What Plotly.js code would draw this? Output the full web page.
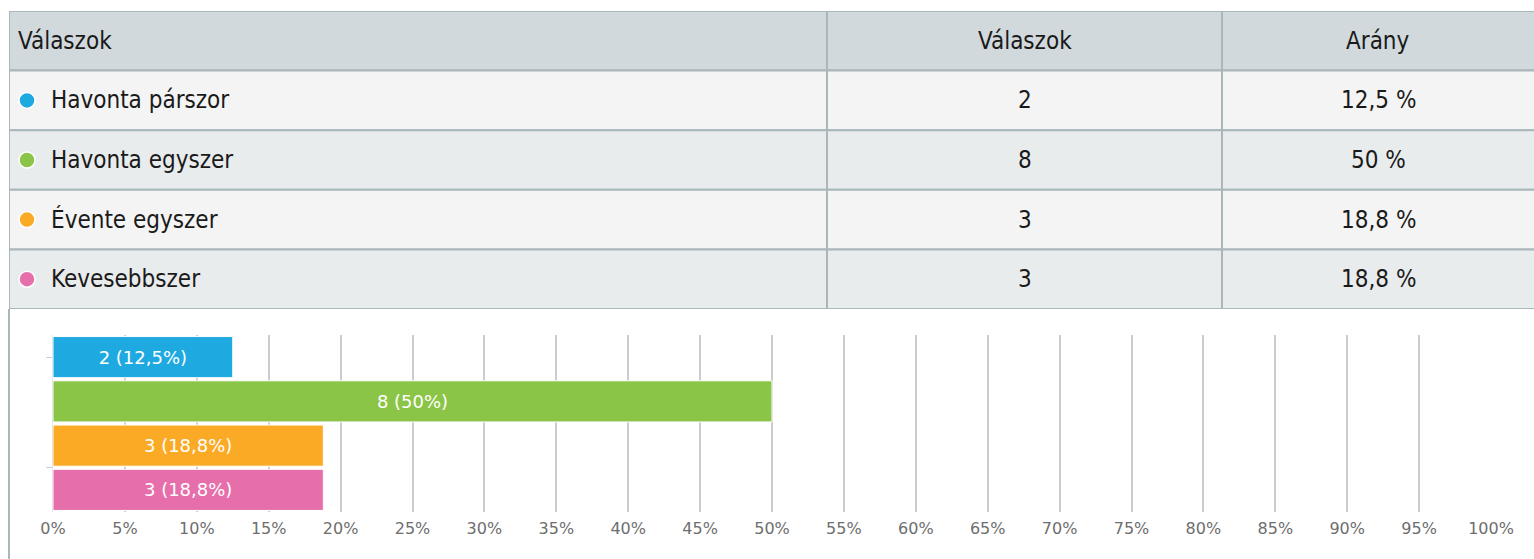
<!DOCTYPE html>
<html>
<head>
<meta charset="utf-8">
<script src="https://cdn.plot.ly/plotly-3.0.1.min.js"></script>
<style>
  html, body { margin: 0; padding: 0; background: #fff; }
  #chart { width: 1534px; height: 559px; }
</style>
</head>
<body>
<div id="chart"></div>
<script>
// answers, counts and shares as read from the survey summary
const answers = ['Havonta párszor', 'Havonta egyszer', 'Évente egyszer', 'Kevesebbszer'];
const counts = [2, 8, 3, 3];
const shares = [12.5, 50, 18.8, 18.8];
const colors = ['#1fa9e1', '#8bc547', '#fbaa26', '#e66fab'];
const headers = ['Válaszok', 'Válaszok', 'Arány'];
const pctTicks = [0, 5, 10, 15, 20, 25, 30, 35, 40, 45, 50, 55, 60, 65, 70, 75, 80, 85, 90, 95, 100];

const huNum = v => String(v).replace('.', ',');

const tableFont = 'Liberation Sans Narrow, DejaVu Sans Condensed, Arial Narrow, sans-serif';
const barFont = 'DejaVu Sans, Verdana, sans-serif';

// table grid: x2 runs in pixels across the panel, y2 counts rows (0 = header)
const colEdges = [0, 818, 1213, 1525];
const rowFills = ['#d1d9dd', '#f4f4f4', '#e9eced', '#f4f4f4', '#e9eced'];
const border = '#a9b6ba';

const shapes = [];
rowFills.forEach((fill, r) => {
    shapes.push({ type: 'rect', xref: 'x2', yref: 'y2', layer: 'below',
        x0: colEdges[0], x1: colEdges[3] + 4, y0: r - 0.5, y1: r + 0.5,
        fillcolor: fill, line: { color: border, width: 2 } });
});
[colEdges[1], colEdges[2]].forEach(x => {
    shapes.push({ type: 'line', xref: 'x2', yref: 'y2', layer: 'below',
        x0: x, x1: x, y0: -0.5, y1: rowFills.length - 0.5,
        line: { color: border, width: 2 } });
});
// left border of the panel, continuing below the table
shapes.push({ type: 'line', xref: 'paper', yref: 'paper', x0: 9 / 1534, x1: 9 / 1534, y0: 0, y1: 250 / 559,
    line: { color: border, width: 2 } });

const cellFont = { family: tableFont, size: 24, color: '#1a1a1a' };
const annotations = [];
const textAt = (x, r, text, anchor) => annotations.push({
    xref: 'x2', yref: 'y2', x: x, y: r, text: text, showarrow: false,
    xanchor: anchor, yanchor: 'middle', font: cellFont });

textAt(7, 0, headers[0], 'left');
textAt((colEdges[1] + colEdges[2]) / 2, 0, headers[1], 'center');
textAt((colEdges[2] + colEdges[3]) / 2, 0, headers[2], 'center');
answers.forEach((a, i) => {
    textAt(40, i + 1, a, 'left');
    textAt((colEdges[1] + colEdges[2]) / 2, i + 1, String(counts[i]), 'center');
    textAt((colEdges[2] + colEdges[3]) / 2, i + 1, huNum(shares[i]) + ' %', 'center');
});

// coloured dots in front of each answer
const dots = {
    type: 'scatter',
    mode: 'markers',
    xaxis: 'x2',
    yaxis: 'y2',
    x: answers.map(() => 18),
    y: answers.map((a, i) => i + 1),
    marker: { color: colors, size: 16, line: { color: '#ffffff', width: 1.5 } },
    hoverinfo: 'skip'
};

// one trace per answer so each bar keeps its own colour
const bars = answers.map((a, i) => ({
    type: 'bar',
    orientation: 'h',
    x: [shares[i]],
    y: [i],
    name: a,
    width: 0.93,
    marker: { color: colors[i], line: { color: '#ffffff', width: 1 } },
    text: [counts[i] + ' (' + huNum(shares[i]) + '%)'],
    textposition: 'inside',
    insidetextanchor: 'middle',
    textfont: { family: barFont, size: 18, color: '#ffffff' },
    hoverinfo: 'skip'
}));

const layout = {
    width: 1534,
    height: 559,
    margin: { l: 0, r: 0, t: 0, b: 0 },
    paper_bgcolor: '#ffffff',
    plot_bgcolor: 'rgba(0,0,0,0)',
    showlegend: false,
    barmode: 'overlay',
    xaxis: {
        domain: [53 / 1534, 1491 / 1534],
        range: [0, 100],
        tickvals: pctTicks,
        ticktext: pctTicks.map(t => t + '%'),
        showgrid: true,
        gridcolor: '#cccccc',
        gridwidth: 2,
        zeroline: false,
        showline: false,
        ticks: '',
        ticklabelstandoff: 5,
        tickfont: { family: barFont, size: 16, color: '#6e6e6e' },
        fixedrange: true
    },
    yaxis: {
        domain: [47 / 559, 224 / 559],
        range: [3.5, -0.5],
        tickvals: [0, 2.5],
        showticklabels: false,
        ticks: 'outside',
        ticklen: 6,
        tickcolor: '#c3d1dd',
        showgrid: false,
        zeroline: false,
        showline: true,
        linecolor: '#e3e6ea',
        linewidth: 1,
        fixedrange: true
    },
    xaxis2: {
        domain: [9 / 1534, 1],
        range: [0, 1525],
        visible: false,
        fixedrange: true
    },
    yaxis2: {
        domain: [250 / 559, 548 / 559],
        range: [4.5, -0.5],
        visible: false,
        fixedrange: true
    },
    shapes: shapes,
    annotations: annotations
};

Plotly.newPlot('chart', [...bars, dots], layout, { displayModeBar: false, staticPlot: true });
</script>
</body>
</html>
